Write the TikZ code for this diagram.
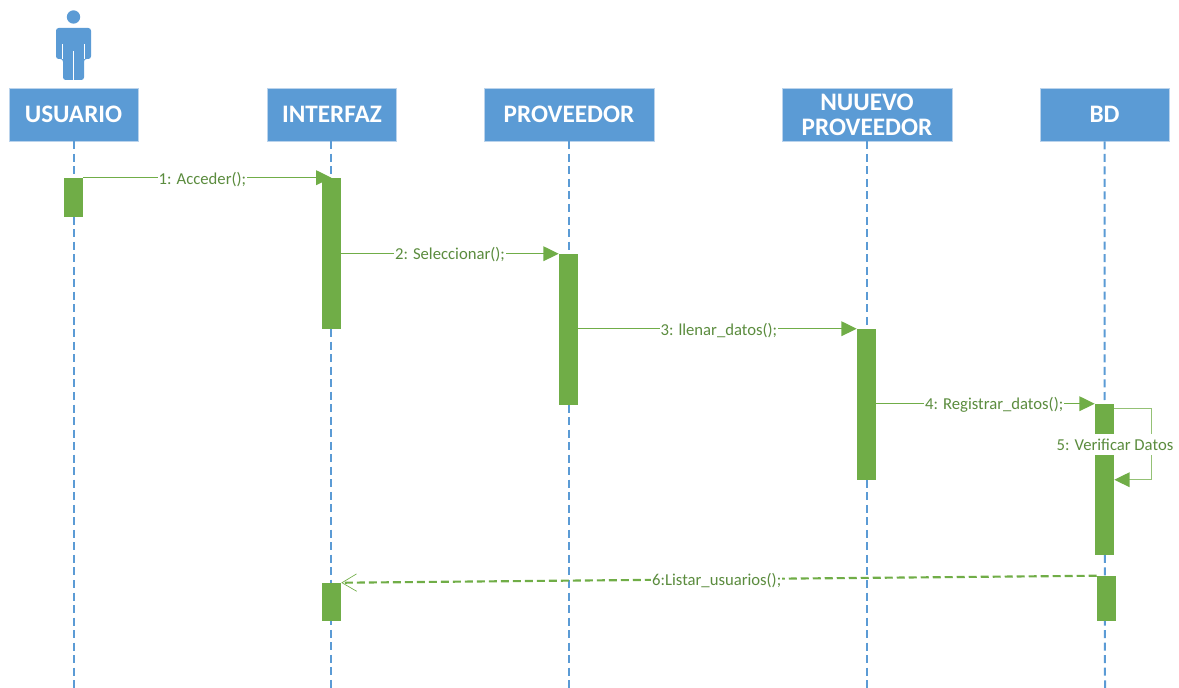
\documentclass[tikz,border=0pt]{standalone}
\usepackage{fontspec}
\setmainfont{Carlito}
\usetikzlibrary{arrows.meta,calc}
\definecolor{hdblue}{HTML}{5B9BD5}
\definecolor{hdedge}{HTML}{BAD3EC}
\definecolor{acgreen}{HTML}{70AD47}
\definecolor{acedge}{HTML}{A9D08E}
\definecolor{txgreen}{HTML}{5B8C3E}
\tikzset{
  x=0.75pt, y=-0.75pt,
  hdbox/.style={rectangle, fill=hdblue, draw=hdedge, line width=0.5pt, text=white, inner sep=0pt,
    minimum height=39.75pt, align=center, font=\fontsize{18.9}{18.5}\selectfont\bfseries},
  lifeline/.style={hdblue, line width=1.5pt, dash pattern=on 6pt off 3.4pt},
  bar/.style={rectangle, fill=acgreen, draw=none, inner sep=0pt, minimum width=14.25pt},
  msg/.style={acgreen, line width=1pt, yshift=-0.5pt, -{Triangle[length=11.5pt,width=11pt]}},
  retmsg/.style={acgreen, line width=1.6pt, dash pattern=on 6pt off 3pt,
    -{Straight Barb[length=11pt,width=13pt,line width=0.5pt]}},
  selfmsg/.style={color=acgreen!75, line width=1pt, -{Triangle[length=11.5pt,width=11pt,color=acgreen]}},
  lbl/.style={fill=white, text=txgreen, inner sep=0.6pt, font=\fontsize{12.5}{14}\selectfont},
}
\begin{document}
\begin{tikzpicture}
\useasboundingbox (0,0) rectangle (1179,688);
% headers
\node[hdbox, minimum width=96.75pt] (usuario) at (73.5,114.5) {USUARIO};
\node[hdbox, minimum width=96.75pt] (interfaz) at (332,114.5) {INTERFAZ};
\node[hdbox, minimum width=127.5pt] (proveedor) at (569,114.5) {PROVEEDOR};
\node[hdbox, minimum width=127.5pt] (nuevo) at (867,114.5) {NUUEVO\\PROVEEDOR};
\node[hdbox, minimum width=96.75pt] (bd) at (1104.5,114.5) {BD};
% lifeline ends
\coordinate (uend) at (73.5,688);
\coordinate (iend) at (331,688);
\coordinate (pend) at (569,688);
\coordinate (nend) at (867,688);
\coordinate (bend) at (1105,688);
\draw[lifeline] (usuario.south) -- (uend);
\draw[lifeline] (331,141) -- (iend);
\draw[lifeline] (proveedor.south) -- (pend);
\draw[lifeline] (nuevo.south) -- (nend);
\draw[lifeline] (bd.south) -- (bend);
% actor
\fill[hdblue] (73.5,17) circle[radius=6.7];
\fill[hdblue, rounded corners=2pt] (56,59) -- (56,28) -- (91,28) -- (91,59) -- (84,59) -- (84,80) -- (63,80) -- (63,59) -- cycle;
\draw[white, line width=0.5pt] (73.5,51) -- (73.5,80);
\draw[white, line width=0.5pt] (62.8,44) -- (62.8,59);
\draw[white, line width=0.5pt] (84.2,44) -- (84.2,59);
% activations
\node[bar, minimum height=29.25pt] (u1) at (73.5,197.5) {};
\node[bar, minimum height=113.25pt] (i1) at (331.5,253.5) {};
\node[bar, minimum height=113.25pt] (p1) at (568.5,329.5) {};
\node[bar, minimum height=113.25pt] (n1) at (866.5,404.5) {};
\node[bar, minimum height=113.25pt] (b1) at (1104.5,479.5) {};
\node[bar, minimum height=33.75pt] (b2) at (1106.5,598.5) {};
\node[bar, minimum height=28.5pt] (i2) at (331.5,602) {};
% messages
\draw[msg] (u1.north east) -- node[lbl, pos=0.48, yshift=-1pt] {1: Acceder();} (i1.north);
\draw[msg] ($(i1.north east)+(0,76)$) -- node[lbl, yshift=-0.6pt] {2: Seleccionar();} (p1.north west);
\draw[msg] ($(p1.north east)+(0,75)$) -- node[lbl, pos=0.505, yshift=-1pt] {3: llenar\_datos();} (n1.north west);
\draw[msg] ($(n1.north east)+(0,75)$) -- node[lbl, pos=0.54, yshift=-1pt] {4: Registrar\_datos();} (b1.north west);
\coordinate (selfa) at ($(b1.north east)+(0,5)$);
\coordinate (selfb) at ($(b1.north east)+(0,76)$);
\draw[selfmsg] (selfa) -- ++(37,0) |- (selfb);
\node[lbl, minimum height=15.75pt] (selflbl) at (1115,444.5) {5: Verificar Datos};
\draw[retmsg] (b2.north west) -- node[lbl, pos=0.503, yshift=-1pt] {6:Listar\_usuarios();} (i2.north east);
\end{tikzpicture}
\end{document}
